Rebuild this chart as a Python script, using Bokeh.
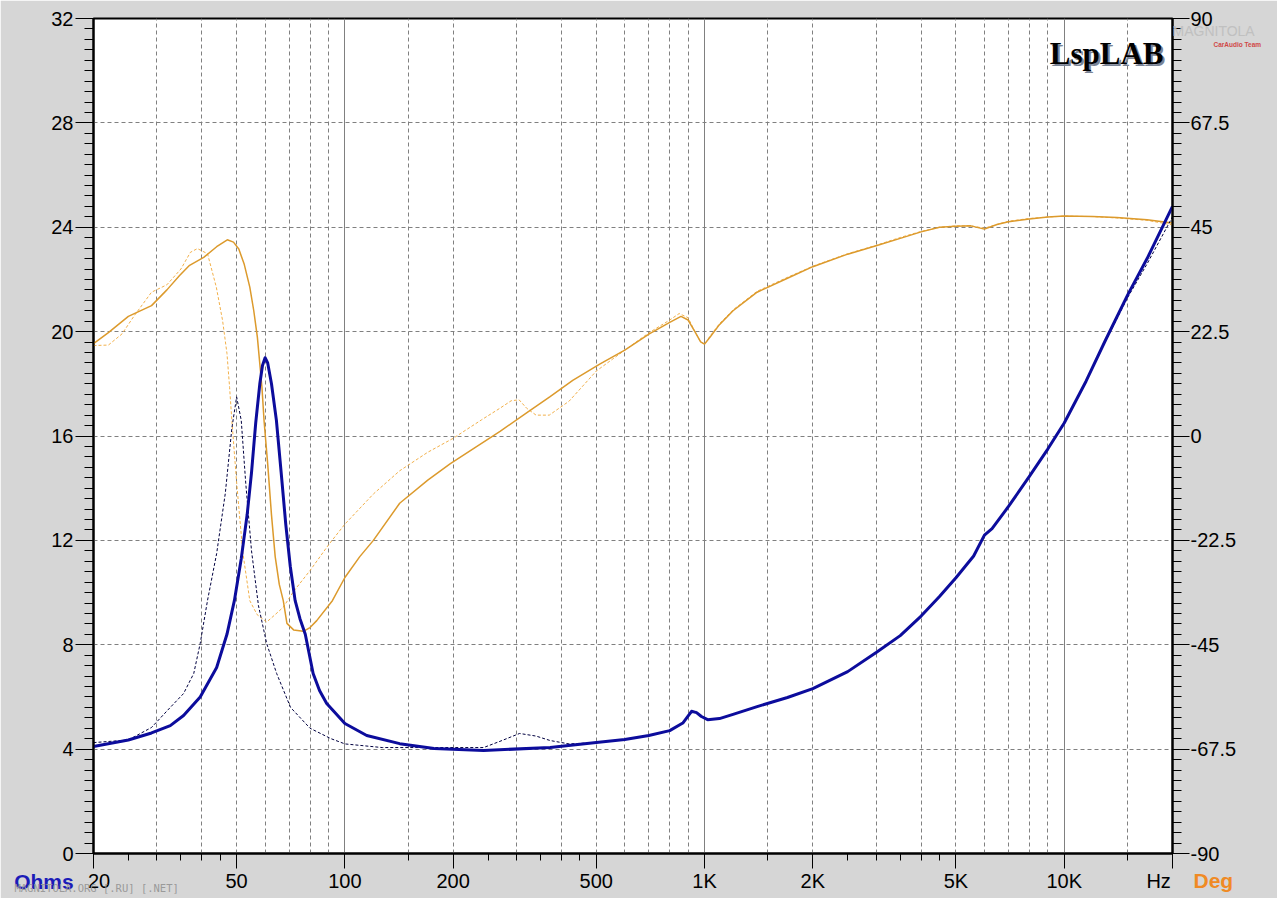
from bokeh.plotting import figure
from bokeh.models import FixedTicker, LinearAxis, LogAxis, Range1d, Grid, Label
from bokeh.embed import file_html
from bokeh.resources import INLINE

# ---------------- data ----------------
# Impedance, measured (thick blue)
imp_a_f = [20, 25, 29, 32.7, 35.6, 39.6, 44, 47, 49.3, 51.5, 53.5, 55, 56.5, 58, 59, 60, 61, 62.5,
           64.5, 66.5, 68.5, 70.5, 72.7, 75, 77.6, 81.6, 85, 89, 100, 115, 142, 177, 243, 372,
           500, 600, 700, 800, 870, 920, 950, 980, 1020, 1100, 1200, 1400, 1700, 2000, 2500,
           3000, 3500, 4000, 4500, 5000, 5600, 6000, 6300, 7000, 8000, 9000, 10000, 11500,
           13000, 15000, 17000, 20000]
imp_a_z = [4.1, 4.35, 4.62, 4.9, 5.29, 6.0, 7.13, 8.4, 9.7, 11.3, 13.0, 14.6, 16.5, 18.0, 18.7, 19.0,
           18.8, 18.0, 16.6, 14.6, 12.6, 11.0, 9.7, 9.0, 8.4, 6.9, 6.25, 5.75, 4.98, 4.52, 4.21,
           4.02, 3.95, 4.06, 4.25, 4.37, 4.52, 4.71, 5.0, 5.45, 5.4, 5.25, 5.13, 5.17, 5.33,
           5.63, 5.98, 6.32, 6.97, 7.7, 8.35, 9.1, 9.85, 10.57, 11.4, 12.2, 12.45, 13.3, 14.45,
           15.5, 16.5, 18.1, 19.65, 21.4, 22.8, 24.8]

# Impedance, reference (thin dashed)
imp_b_f = [20, 25, 29, 32.7, 35.6, 38, 39.6, 41.5, 44, 46.5, 48.5, 50, 51.5, 53, 55, 57.5, 60.6,
           64.6, 70.6, 80, 91.5, 100, 127, 243, 270, 306, 340, 372, 420, 500, 600, 700, 800,
           870, 920, 950, 980, 1020, 1100, 1200, 1400, 1700, 2000, 2500, 3000, 3500, 4000,
           4500, 5000, 5600, 6000, 6300, 7000, 8000, 9000, 10000, 11500, 13000, 15000, 17000,
           20000]
imp_b_z = [4.25, 4.35, 4.83, 5.6, 6.13, 6.9, 8.05, 9.7, 11.5, 13.8, 16.3, 17.5, 16.6, 14.2, 11.6,
           9.5, 8.05, 6.9, 5.6, 4.8, 4.4, 4.2, 4.06, 4.06, 4.3, 4.6, 4.5, 4.33, 4.2, 4.25, 4.37,
           4.52, 4.71, 5.0, 5.4, 5.45, 5.25, 5.13, 5.17, 5.33, 5.63, 5.98, 6.32, 6.97, 7.7,
           8.35, 9.1, 9.85, 10.57, 11.4, 12.15, 12.45, 13.3, 14.45, 15.5, 16.5, 18.1, 19.6,
           21.3, 22.6, 24.4]

# Phase, measured (orange solid)
ph_a_f = [20, 22, 25, 29, 32, 34.7, 37, 40.5, 44, 47.1, 49, 50.7, 52.5, 54.4, 55.8, 57.1, 58.8,
          59.6, 61, 62.5, 64, 65.7, 67.4, 69, 72, 76.6, 80, 83.5, 92.3, 100, 110, 120, 142, 170,
          196, 230, 270, 320, 372, 430, 511, 600, 702, 800, 860, 900, 940, 975, 1000, 1040,
          1100, 1200, 1400, 1700, 2000, 2500, 3000, 3500, 4000, 4500, 5000, 5500, 6000, 6500,
          7000, 8000, 9000, 10000, 12000, 14000, 17000, 20000]
ph_a_d = [19.9, 22.3, 25.8, 28.1, 31.5, 34.6, 36.8, 38.5, 40.8, 42.3, 41.8, 40.3, 37, 32.1, 27,
          21.3, 10.5, 3.3, -6, -17, -26, -32, -35.5, -40.4, -41.8, -42.1, -41.3, -39.8, -35.5,
          -30.5, -26, -22.5, -14.5, -9.5, -6, -2.5, 1, 5, 8.5, 12, 15.5, 18.5, 22, 24.5, 25.8,
          25, 22.5, 20.3, 19.8, 21.5, 24, 27, 31, 34, 36.5, 39.2, 41, 42.6, 44, 45, 45.2, 45.3,
          44.6, 45.6, 46.2, 46.8, 47.2, 47.4, 47.3, 47.1, 46.6, 45.9]

# Phase, reference (orange dashed)
ph_b_f = [20, 22, 24, 26, 29, 32, 35, 37.2, 38.9, 41.5, 43.9, 45.7, 47, 47.8, 48.5, 50, 52, 54.4,
          57, 60.6, 64, 67.4, 72, 80, 90, 100, 120, 142, 170, 200, 240, 270, 290, 305, 320, 340,
          370, 420, 500, 600, 702, 800, 850, 900, 940, 975, 1000, 1040, 1100, 1200, 1400,
          1700, 2000, 2500, 3000, 3500, 4000, 4500, 5000, 5500, 6000, 6500, 7000, 8000, 9000,
          10000, 12000, 14000, 17000, 20000]
ph_b_d = [19.5, 19.6, 22, 26, 31, 32.6, 36, 39.6, 40.4, 39.3, 32.1, 24.9, 17.8, 10.5, 3.3, -10,
          -25, -35.5, -38.5, -40.1, -38.5, -36.9, -33.5, -29, -23.5, -19, -12.5, -7.5, -3.5,
          -0.5, 3.5, 6, 7.6, 7.8, 6, 4.5, 4.5, 7.5, 14, 18.5, 22.3, 25, 26.4, 25.5, 22.5, 20.3,
          19.8, 21.7, 24.2, 27.2, 31.2, 34.2, 36.6, 39.3, 41.1, 42.8, 44.1, 45, 45.3, 45.3,
          44.8, 45.6, 46.3, 46.9, 47.2, 47.4, 47.3, 47.0, 46.5, 45.5]

# axes
NB = "\u00a0"
ohm_ticks = [0, 4, 8, 12, 16, 20, 24, 28, 32]
deg_ticks = [-90, -67.5, -45, -22.5, 0, 22.5, 45, 67.5, 90]
deg_labels = ["-90", "-67.5", "-45", "-22.5", "0", "22.5", "45", "67.5", "90"]
freq_ticks = [20, 50, 100, 200, 500, 1000, 2000, 5000, 10000, 20000]
freq_labels = [NB * 2 + "20", "50", "100", "200", "500", "1K", "2K", "5K", "10K", "Hz" + NB * 5]
freq_minor = [25, 30, 35, 40, 45, 150, 250, 300, 350, 400, 450, 1500, 2500, 3000, 3500, 4000,
              4500, 15000]
grid_dashed = [30, 40, 50, 60, 70, 80, 90, 150, 200, 300, 400, 500, 600, 700, 800, 900, 1500,
               2000, 3000, 4000, 5000, 6000, 7000, 8000, 9000, 15000]
grid_solid = [100, 1000, 10000]
ohm_grid = [4, 8, 12, 16, 20, 24, 28]

FONT = "Liberation Sans"
BG = "#d6d6d6"

p = figure(width=1277, height=898, x_axis_type="log", x_range=(20, 20000), y_range=(0, 32),
           output_backend="svg", toolbar_location=None,
           min_border_left=93, min_border_right=105, min_border_top=18, min_border_bottom=45)
p.border_fill_color = BG
p.background_fill_color = "white"
p.outline_line_color = "black"
p.outline_line_width = 2
p.extra_y_ranges = {"deg": Range1d(-90, 90)}

# grids
p.xgrid.ticker = FixedTicker(ticks=grid_dashed)
p.xgrid.grid_line_color = "#808080"
p.xgrid.grid_line_dash = "4 3"
p.ygrid.ticker = FixedTicker(ticks=ohm_grid)
p.ygrid.grid_line_color = "#808080"
p.ygrid.grid_line_dash = "4 3"
p.add_layout(Grid(dimension=0, ticker=FixedTicker(ticks=grid_solid), grid_line_color="#808080",
                  grid_line_width=1))

# ---- real axes ----
xa = p.xaxis[0]
xa.ticker = FixedTicker(ticks=freq_ticks, minor_ticks=freq_minor)
xa.major_label_overrides = dict(zip(freq_ticks, freq_labels))
xa.major_tick_out = 15
xa.major_tick_in = 0
xa.minor_tick_out = 7
xa.minor_tick_in = 0
xa.major_label_standoff = 1

ya = p.yaxis[0]
ya.ticker = FixedTicker(ticks=ohm_ticks, minor_ticks=[i * 0.4 for i in range(81)])
ya.major_tick_out = 18
ya.major_tick_in = 0
ya.minor_tick_out = 9
ya.minor_tick_in = 0
ya.major_label_standoff = 2

ra = LinearAxis(y_range_name="deg",
                ticker=FixedTicker(ticks=deg_ticks, minor_ticks=[-90 + 2.25 * i for i in range(81)]))
ra.major_label_overrides = dict(zip(deg_ticks, deg_labels))
ra.major_tick_out = 17
ra.major_tick_in = 0
ra.minor_tick_out = 9
ra.minor_tick_in = 0
ra.major_label_standoff = 1
p.add_layout(ra, "right")

for ax in (xa, ya, ra):
    ax.axis_line_color = "black"
    ax.axis_line_width = 2
    ax.major_tick_line_color = "black"
    ax.minor_tick_line_color = "black"
    ax.major_label_text_font = FONT
    ax.major_label_text_font_size = "20px"
    ax.major_label_text_color = "black"


# ---- texts outside the frame: label-only axes stacked in the side panels ----
def text_axis(side, tick, text, standoff, font=FONT, size="20px", color="black",
              style="normal"):
    cls = LogAxis if side == "below" else LinearAxis
    ax = cls(ticker=FixedTicker(ticks=[tick]))
    ax.major_label_overrides = {tick: text}
    ax.axis_line_color = None
    ax.major_tick_line_color = None
    ax.minor_tick_line_color = None
    ax.major_tick_out = 0
    ax.major_tick_in = 0
    ax.minor_tick_out = 0
    ax.minor_tick_in = 0
    ax.major_label_standoff = standoff
    ax.major_label_text_font = font
    ax.major_label_text_font_size = size
    ax.major_label_text_color = color
    ax.major_label_text_font_style = style
    p.add_layout(ax, side)


# bottom row, stacked under the frequency axis and pulled back up to its label row
text_axis("below", 20, "Ohms" + NB * 17, -25, size="21px", color="#1c1cb8", style="bold")
text_axis("below", 20000, NB * 14 + "Deg", -27, size="21px", color="#f08a24", style="bold")
text_axis("below", 20, NB + "MAGNITOLA.ORG [.RU] [.NET]", -14, font="DejaVu Sans Mono",
          size="10.5px", color="#9a9a9a")
# watermark at the top right
text_axis("right", 31.54, "MAGNITOLA", -67, size="14px", color="#c0c0c0")
text_axis("right", 31.0, "CarAudio Team", -44, size="6.5px", color="#d04848", style="bold")

# curves
p.line(ph_b_f, ph_b_d, y_range_name="deg", line_color="#f2b04a", line_width=1, line_dash="3 2")
p.line(ph_a_f, ph_a_d, y_range_name="deg", line_color="#dc9a2c", line_width=1.5)
p.line(imp_b_f, imp_b_z, line_color="#000040", line_width=1, line_dash="3 2")
p.line(imp_a_f, imp_a_z, line_color="#0c0c9c", line_width=3, line_join="round")

# logo inside the frame
for xo, yo, col in ((-7, -37, "#7a8496"), (-9, -35, "black")):
    p.add_layout(Label(x=20000, y=32, x_offset=xo, y_offset=yo, text="LspLAB",
                       text_font="Liberation Serif", text_font_style="bold",
                       text_font_size="31px", text_color=col, text_align="right",
                       text_baseline="alphabetic"))

open("out.html", "w").write(file_html(p, INLINE))
